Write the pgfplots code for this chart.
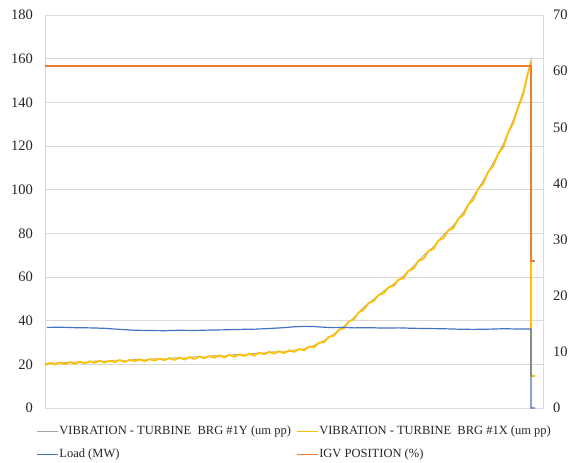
\documentclass[border=0pt]{standalone}
\usepackage{pgfplots}
\pgfplotsset{compat=1.18}
\usepackage{fontspec}
\setmainfont{Liberation Serif}
\definecolor{cgray}{HTML}{A5A5A5}
\definecolor{cyellow}{HTML}{FFC000}
\definecolor{cblue}{HTML}{4472C4}
\definecolor{corange}{HTML}{ED7D31}
\definecolor{gridc}{HTML}{D9D9D9}
\begin{document}
\begin{tikzpicture}
\begin{axis}[
  name=main,
  scale only axis, width=498pt, height=393pt,
  xmin=0, xmax=100, ymin=0, ymax=180,
  ytick={0,20,...,180}, xtick=\empty,
  ymajorgrids, major grid style={gridc, line width=0.7pt},
  axis line style={gridc, line width=0.7pt},
  tick style={draw=none},
  /pgf/number format/assume math mode=true,
  yticklabel style={font=\fontsize{14.5}{15}\selectfont, text=black!85, inner sep=0pt, xshift=-12pt},
  legend style={at={(0.5,-0.038)}, anchor=north, draw=none, legend columns=2,
    font=\fontsize{12.5}{13}\selectfont, text=black!85,
    /tikz/every even column/.append style={column sep=4pt},
    nodes={inner sep=1pt},
    row sep=11pt},
  legend cell align=left,
  legend image code/.code={\draw[#1, line width=1.3pt] (0pt,0pt) -- (21pt,0pt);},
]
\addplot[cgray, line width=0.8pt] coordinates {
(0,20.3) (2,20.6) (4,20.8) (6,21.1) (8,20.9) (10,21.5) (12,21.3) (14,21.9) (16,21.6) (18,22.2)
(20,22.0) (22,22.6) (24,22.4) (26,23.0) (28,22.8) (30,23.5) (32,23.3) (34,24.0) (36,23.8) (38,24.5)
(40,24.3) (42,25.0) (44,25.2) (46,25.8) (48,25.7) (50,26.5) (52,27.0) (54,28.6) (56,30.9) (58,33.8)
(60,37.4) (62,41.3) (64,46.2) (66,49.8) (68,53.6) (70,56.8) (72,60.6) (74,64.9) (76,69.8) (78,73.9)
(80,79.3) (82,83.6) (84,89.7) (86,96.8) (88,104.3) (90,112.2) (92,120.8) (94,131.8) (96,144.8)
(97,154) (97.6,159.5) (97.6,15) (98.4,15)};
\addlegendentry{VIBRATION - TURBINE\ \ BRG \#1Y (um pp)}
\addplot[cyellow, line width=1.8pt] coordinates {
(0,19.6) (1,20.7) (2,19.9) (3,20.9) (4,20.1) (5,21.0) (6,20.3) (7,21.2) (8,20.5) (9,21.4)
(10,20.7) (11,21.6) (12,20.8) (13,21.7) (14,21.0) (15,22.0) (16,21.1) (17,22.1) (18,21.4) (19,22.3)
(20,21.4) (21,22.4) (22,21.7) (23,22.6) (24,21.9) (25,22.9) (26,22.0) (27,23.1) (28,22.2) (29,23.3)
(30,22.5) (31,23.6) (32,22.8) (33,23.8) (34,23.0) (35,24.1) (36,23.2) (37,24.3) (38,23.5) (39,24.6)
(40,23.8) (41,24.9) (42,24.0) (43,25.3) (44,24.6) (45,25.7) (46,24.9) (47,26.0) (48,25.1) (49,26.4)
(50,25.7) (51,27.0) (52,26.4) (53,28.1) (54,27.8) (55,29.9) (56,30.1) (57,32.6) (58,33.1) (59,35.8)
(60,36.6) (61,39.6) (62,40.6) (63,43.8) (64,45.0) (65,48.1) (66,49.0) (67,51.8) (68,52.5) (69,55.3)
(70,56.0) (71,58.8) (72,59.4) (73,62.9) (74,63.8) (75,67.4) (76,68.3) (77,71.9) (78,72.8) (79,76.7)
(80,77.8) (81,81.4) (82,82.3) (83,86.7) (84,88.3) (85,93.2) (86,95.3) (87,100.4) (88,102.8) (89,108.2)
(90,110.8) (91,116.4) (92,119.3) (93,126.2) (94,130.3) (95,137.6) (96,143.4) (97,153.5) (97.6,157.5)
(97.6,14.7) (98.4,14.7)};
\addlegendentry{VIBRATION - TURBINE\ \ BRG \#1X (um pp)}
\addplot[cblue, line width=1.2pt] coordinates {
(0.4,36.9) (3,37.0) (6,36.8) (9,36.7) (12,36.5) (15,36.0) (18,35.6) (21,35.5) (24,35.4) (27,35.6)
(30,35.5) (33,35.7) (36,35.8) (39,36.0) (42,36.1) (45,36.4) (48,36.8) (50,37.2) (52,37.4) (54,37.3)
(56,37.0) (58,36.8) (60,36.9) (62,36.7) (65,36.8) (68,36.6) (71,36.7) (74,36.5) (77,36.4) (80,36.3)
(83,36.1) (86,36.0) (89,36.1) (92,36.3) (95,36.2) (97.6,36.2) (97.6,0) (98.4,0)};
\addlegendentry{Load (MW)}
\addlegendimage{corange}
\addlegendentry{IGV POSITION (\%)}
\end{axis}
\begin{axis}[
  scale only axis, width=498pt, height=393pt,
  xmin=0, xmax=100, ymin=0, ymax=70,
  ytick={0,10,...,70},
  axis y line*=right, axis x line=none,
  axis line style={draw=none},
  tick style={draw=none},
  /pgf/number format/assume math mode=true,
  yticklabel style={font=\fontsize{14.5}{15}\selectfont, text=black!85, inner sep=0pt, xshift=10pt},
]
\addplot[color=corange, line width=1.6pt] coordinates {
(0,60.9) (97.6,60.9) (97.6,26.2) (98.4,26.2)};
\end{axis}
\path ([shift={(-45pt,-50pt)}]main.south west) rectangle ([shift={(30pt,15pt)}]main.north east);
\end{tikzpicture}
\end{document}
